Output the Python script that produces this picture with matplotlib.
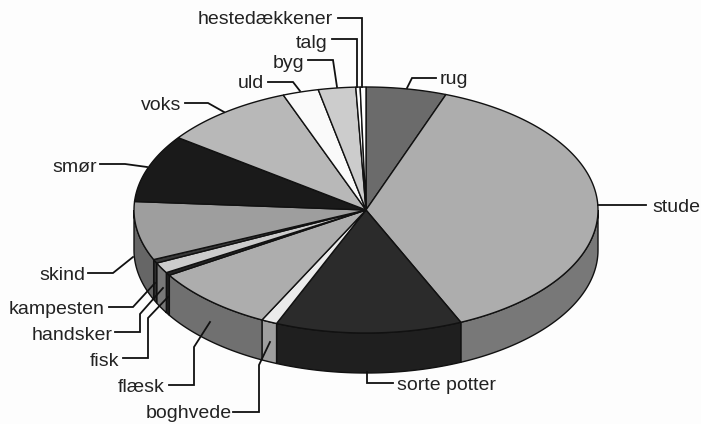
import numpy as np
import matplotlib
matplotlib.use("Agg")
import matplotlib.pyplot as plt

plt.rcParams['font.family'] = ['Liberation Sans', 'DejaVu Sans']

# clockwise from the top of the pie
labels = ['rug', 'stude', 'sorte potter', 'boghvede', 'flæsk', 'fisk', 'handsker', 'kampesten',
          'skind', 'smør', 'voks', 'uld', 'byg', 'talg', 'hestedækkener']
shares = [5.6, 37.7, 13.0, 1.1, 8.7, 0.4, 1.4, 0.5, 7.7, 8.9, 9.2, 2.5, 2.6, 0.3, 0.4]

top_grey = [0.42, 0.68, 0.17, 0.92, 0.68, 0.14, 0.80, 0.22, 0.62, 0.10, 0.72, 0.98, 0.80, 1.0, 1.0]
side_grey = [0.30, 0.47, 0.12, 0.62, 0.44, 0.12, 0.47, 0.18, 0.40, 0.05, 0.45, 0.6, 0.5, 0.6, 0.6]

# pie geometry in pixels
cx, cy, rx, ry, depth = 366, 210, 232, 123, 40

# label: text position, then the leader line points
text_pos = {
    'rug': (440, 80, 'left'), 'stude': (652, 207, 'left'), 'sorte potter': (397, 386, 'left'),
    'boghvede': (232, 413, 'right'), 'flæsk': (165, 387, 'right'), 'fisk': (119, 361, 'right'),
    'handsker': (113, 335, 'right'), 'kampesten': (104, 309, 'right'), 'skind': (85, 276, 'right'),
    'smør': (97, 167, 'right'), 'voks': (181, 106, 'right'), 'uld': (264, 84, 'right'),
    'byg': (304, 63, 'right'), 'talg': (327, 43, 'right'), 'hestedækkener': (333, 20, 'right'),
}
leaders = {
    'rug': [(436, 78), (412, 78), (407, 88)],
    'stude': [(598, 205), (646, 205)],
    'sorte potter': [(367, 372), (367, 383), (393, 383)],
    'boghvede': [(233, 412), (259, 412), (259, 365), (270, 342)],
    'flæsk': [(169, 385), (194, 385), (194, 347), (210, 322)],
    'fisk': [(123, 358), (148, 358), (148, 318), (168, 297)],
    'handsker': [(115, 332), (140, 332), (140, 314), (163, 288)],
    'kampesten': [(109, 307), (133, 307), (155, 283)],
    'skind': [(88, 273), (113, 273), (133, 257)],
    'smør': [(100, 164), (125, 164), (147, 167)],
    'voks': [(185, 103), (208, 103), (224, 112)],
    'uld': [(268, 82), (293, 82), (300, 91)],
    'byg': [(308, 60), (333, 60), (337, 87)],
    'talg': [(332, 39), (357, 39), (357, 87)],
    'hestedækkener': [(338, 18), (362, 18), (362, 87)],
}


def rim(a0, a1, drop=0):
    # points on the ellipse, angles in degrees clockwise from top
    a = np.radians(np.linspace(a0, a1, max(int(a1 - a0) * 2, 2)))
    return cx + rx * np.sin(a), cy - ry * np.cos(a) + drop


fig = plt.figure(figsize=(7.01, 4.24), dpi=100, facecolor='#fdfdfd')
ax = fig.add_axes([0, 0, 1, 1])
ax.set_xlim(0, 701)
ax.set_ylim(424, 0)
ax.axis('off')

edges = np.cumsum([0] + shares) / sum(shares) * 360

# side wall, only the front half shows
for i in range(len(shares)):
    a0, a1 = max(edges[i], 90), min(edges[i + 1], 270)
    if a1 <= a0:
        continue
    x, y = rim(a0, a1)
    xb, yb = rim(a0, a1, depth)
    ax.fill(np.r_[x, xb[::-1]], np.r_[y, yb[::-1]], color=str(side_grey[i]), ec='#111111', lw=1.0, zorder=2)

# top face
for i in range(len(shares)):
    x, y = rim(edges[i], edges[i + 1])
    ax.fill(np.r_[cx, x], np.r_[cy, y], color=str(top_grey[i]), ec='#111111', lw=1.0, zorder=3)

for name in labels:
    pts = np.array(leaders[name])
    ax.plot(pts[:, 0], pts[:, 1], color='#111111', lw=1.3, zorder=4, solid_joinstyle='miter')
    tx, ty, ha = text_pos[name]
    ax.text(tx, ty, name, ha=ha, va='center', fontsize=14, color='#222222', zorder=5)

fig.savefig('out.png', dpi=100, facecolor=fig.get_facecolor())
